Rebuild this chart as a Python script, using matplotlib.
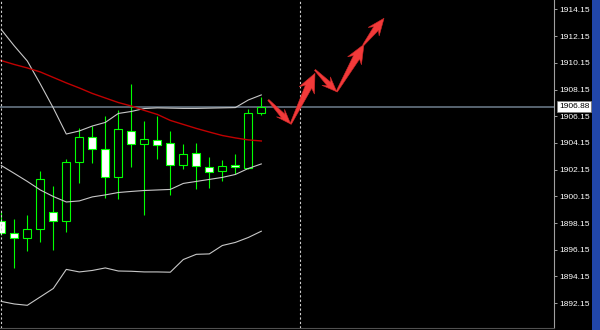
import numpy as np
import matplotlib
matplotlib.use('Agg')
from matplotlib import pyplot as plt
from matplotlib.patches import Polygon, Rectangle
from matplotlib import transforms

# candle data (oldest -> newest)
opens = [1898.27, 1897.39, 1897.03, 1897.71, 1899.00, 1898.31, 1902.75, 1904.58, 1903.72, 1901.63, 1905.05,
         1904.08, 1904.40, 1904.13, 1902.48, 1903.38, 1902.33, 1902.03, 1902.53, 1902.30, 1906.38]
highs = [1898.98, 1898.44, 1898.76, 1902.03, 1900.93, 1902.93, 1905.25, 1905.42, 1906.17, 1906.62, 1908.55,
         1905.80, 1906.20, 1905.07, 1904.10, 1904.13, 1903.08, 1902.88, 1903.33, 1906.70, 1907.62]
lows = [1897.26, 1894.77, 1896.06, 1896.74, 1896.14, 1897.51, 1901.13, 1902.68, 1900.01, 1899.93, 1902.38,
        1898.76, 1902.95, 1900.26, 1902.18, 1900.68, 1900.80, 1901.33, 1901.81, 1902.18, 1906.25]
closes = [1897.41, 1897.03, 1897.71, 1901.43, 1898.31, 1902.75, 1904.58, 1903.68, 1901.63, 1905.18, 1904.08,
          1904.43, 1904.02, 1902.48, 1903.30, 1902.45, 1901.96, 1902.45, 1902.35, 1906.42, 1906.88]

# bollinger bands
bb_upper = [1912.64, 1911.42, 1910.29, 1908.57, 1906.77, 1904.82, 1905.05, 1905.42, 1905.69, 1906.36, 1906.51,
            1906.73, 1906.78, 1906.76, 1906.74, 1906.74, 1906.76, 1906.78, 1906.80, 1907.37, 1907.75]
bb_middle = [1902.46, 1901.87, 1901.27, 1900.63, 1900.14, 1899.73, 1899.81, 1900.11, 1900.26, 1900.44, 1900.52,
             1900.59, 1900.63, 1900.67, 1901.12, 1901.27, 1901.42, 1901.57, 1901.79, 1902.24, 1902.58]
bb_lower = [1892.28, 1892.09, 1891.99, 1892.62, 1893.25, 1894.68, 1894.49, 1894.60, 1894.79, 1894.56, 1894.54,
            1894.49, 1894.49, 1894.47, 1895.42, 1895.81, 1895.84, 1896.47, 1896.70, 1897.07, 1897.54]

# moving average (red)
ma = [1910.32, 1910.03, 1909.77, 1909.47, 1909.06, 1908.65, 1908.27, 1907.86, 1907.52, 1907.18, 1906.92,
      1906.59, 1906.29, 1905.84, 1905.54, 1905.24, 1904.97, 1904.71, 1904.53, 1904.38, 1904.30]

last_price = 1906.88
separators = [0, 23]
price_ticks = [1892.15, 1894.15, 1896.15, 1898.15, 1900.15, 1902.15,
               1904.15, 1906.15, 1908.15, 1910.15, 1912.15, 1914.15]

# forecast arrows (bar, price)
arrow_tail_x = [20.54, 22.26, 24.13, 25.80, 27.85]
arrow_tail_y = [1907.37, 1905.57, 1909.62, 1907.99, 1911.49]
arrow_tip_x = [22.26, 24.13, 25.80, 27.90, 29.44]
arrow_tip_y = [1905.57, 1909.37, 1907.99, 1911.54, 1913.49]
arrow_sizes = [(13, 11, 5), (17, 17, 7), (13, 12, 5), (17, 16, 7), (15, 14, 6)]  # head len, head width, neck width (px)

fig = plt.figure(figsize=(6, 3.3), dpi=100)
fig.patch.set_facecolor('black')
fig.patches.append(Rectangle((592 / 600, 0), 8 / 600, 1, transform=fig.transFigure,
                             facecolor='#2146a8', edgecolor='none'))

ax = fig.add_axes([0, 2 / 330, 554 / 600, 328 / 330])
ax.set_facecolor('black')
ax.set_xlim(-0.1, 42.515)
ax.set_ylim(1890.29, 1914.86)

x = np.arange(len(opens))
o = np.array(opens)
c = np.array(closes)

# current price line
ax.axhline(last_price, color='#6e7e8e', lw=1.1, zorder=1)

# candles
ax.vlines(x, lows, highs, color='#00ff00', lw=0.8, zorder=3)
bull = c >= o
ax.bar(x[bull], (c - o)[bull], bottom=o[bull], width=0.62, facecolor='black',
       edgecolor='#00ff00', lw=0.8, zorder=4)
ax.bar(x[~bull], (o - c)[~bull], bottom=c[~bull], width=0.62, facecolor='white',
       edgecolor='#00ff00', lw=0.8, zorder=4)

# indicators
for band in (bb_upper, bb_middle, bb_lower):
    ax.plot(x, band, color='#c8c8c8', lw=0.8, zorder=5)
ax.plot(np.concatenate([[-0.1], x]), [ma[0] + 0.03] + ma, color='#c00000', lw=1.0, zorder=5)

# period separators
for s in separators:
    ax.axvline(s, color='#d0d0d0', lw=0.8, linestyle=(0, (2, 2)), zorder=6)

# arrows drawn in pixel space
fig.canvas.draw()
to_px = ax.transData
to_data = ax.transData.inverted()
for tx, ty, hx, hy, (hl, hw, wn) in zip(arrow_tail_x, arrow_tail_y, arrow_tip_x, arrow_tip_y, arrow_sizes):
    p0 = to_px.transform((tx, ty))
    p1 = to_px.transform((hx, hy))
    u = (p1 - p0) / np.hypot(*(p1 - p0))
    n = np.array([-u[1], u[0]])
    base = p1 - u * hl
    pts = [p0 + n * 0.7, base + u * 2 + n * wn / 2, base - u * 2 + n * hw / 2, p1,
           base - u * 2 - n * hw / 2, base + u * 2 - n * wn / 2, p0 - n * 0.7]
    ax.add_patch(Polygon(to_data.transform(pts), closed=True, facecolor='#f23a3a',
                         edgecolor='#d02828', lw=0.4, zorder=8))

# right price scale
for side in ('top', 'left'):
    ax.spines[side].set_visible(False)
ax.spines['right'].set_color('#a0a0a0')
ax.spines['bottom'].set_color('#505050')
ax.set_xticks([])
ax.yaxis.tick_right()
ax.set_yticks(price_ticks)
ax.set_yticklabels([f'{t:.2f}' for t in price_ticks])
ax.tick_params(axis='y', colors='#a0a0a0', labelcolor='white', length=2, width=0.7, pad=1.5,
               labelsize=6)
for lbl in ax.get_yticklabels():
    lbl.set_family('Liberation Sans')

lbl_tr = transforms.blended_transform_factory(ax.transAxes, ax.transData)
ax.text(1 + 5 / 554, last_price, f'{last_price:.2f}', transform=lbl_tr, ha='left', va='center',
        fontsize=6, family='Liberation Sans', color='black', zorder=10, clip_on=False,
        bbox=dict(boxstyle='square,pad=0.25', facecolor='white', edgecolor='#808080', lw=0.5))

fig.savefig('out.png', dpi=100, facecolor='black')
